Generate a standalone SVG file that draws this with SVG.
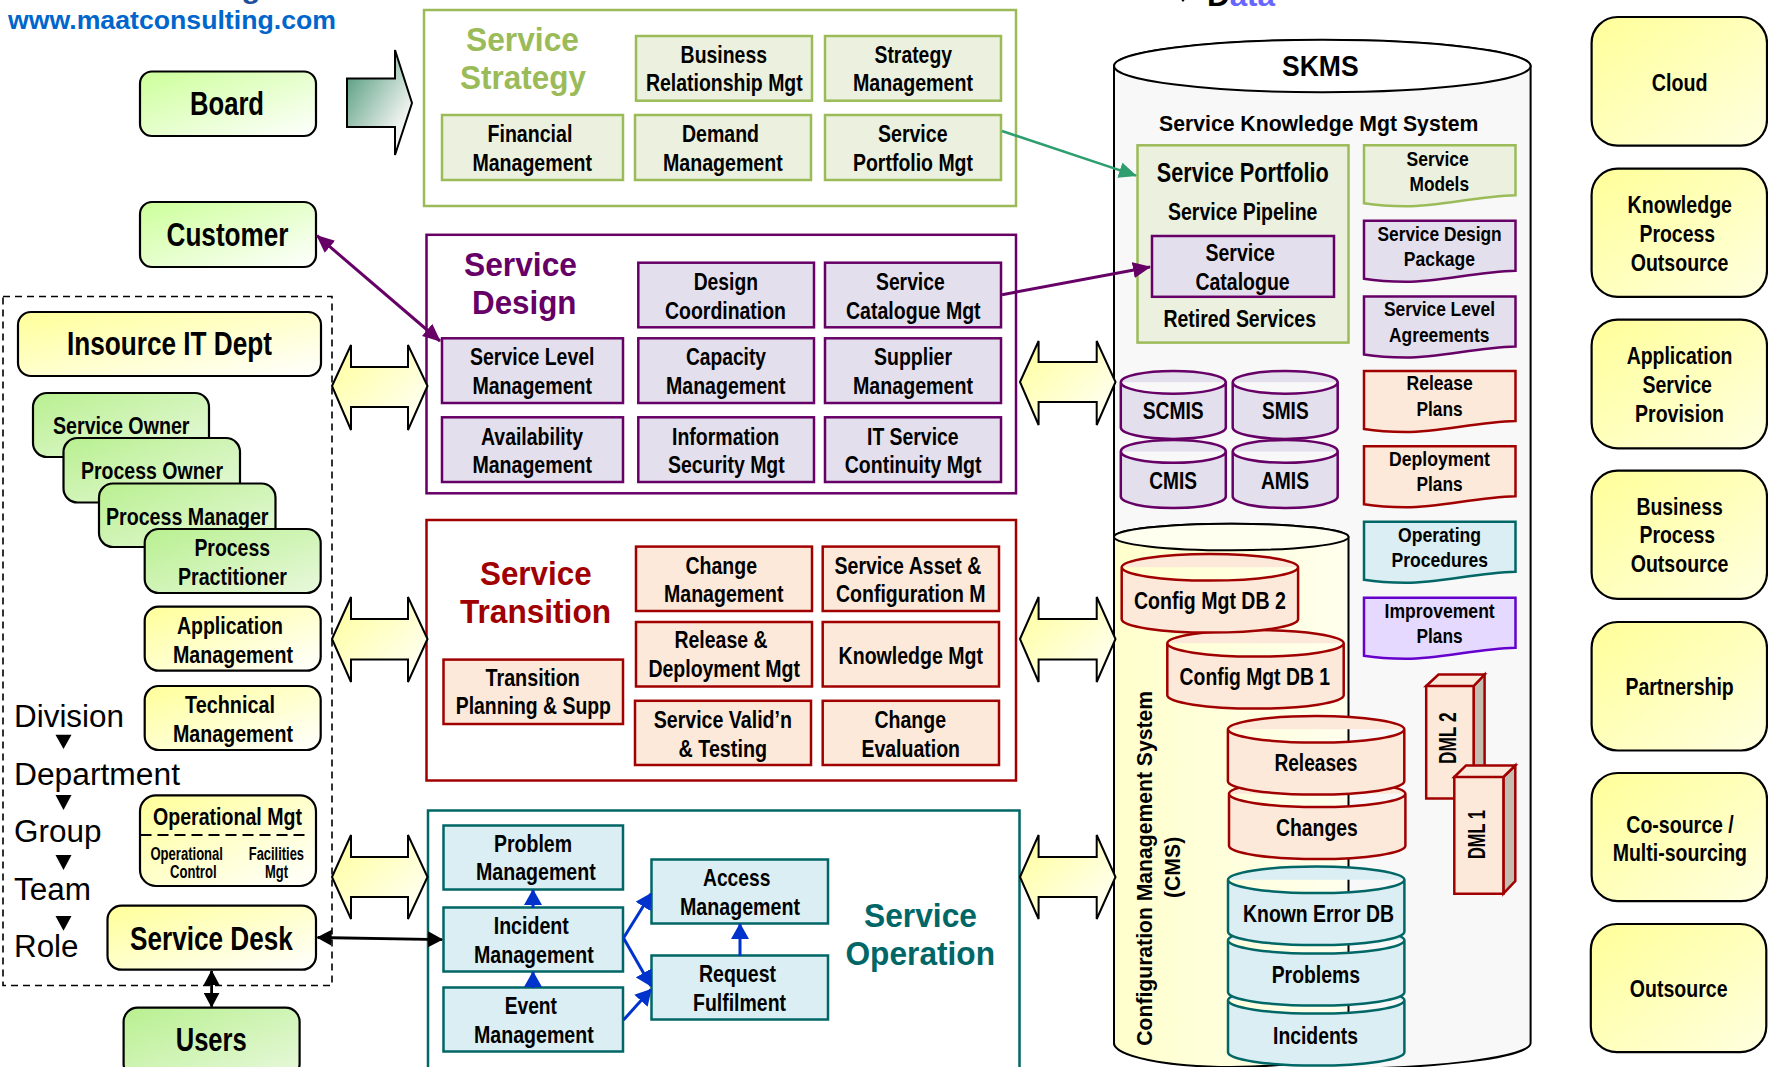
<svg xmlns="http://www.w3.org/2000/svg" width="1768" height="1067" viewBox="0 0 1768 1067">
<style>
text{font-family:"Liberation Sans",Arial,sans-serif;font-weight:700;fill:#000;font-size:24px}
.xl{font-size:33px}.lg{font-size:33px}.doc{font-size:21px}.sm{font-size:18px}.reg{font-weight:400;font-size:31px}
.rr{stroke:#000;stroke-width:2.2}
.ss{fill:#ebf1de;stroke:#9bbb59;stroke-width:2.5}
.sd{fill:#e4dfec;stroke:#660066;stroke-width:2.5}
.st{fill:#fde9d9;stroke:#a00000;stroke-width:2.5}
.so{fill:#daeef3;stroke:#006666;stroke-width:2.5}
.si{fill:#e6d9ff;stroke:#6600cc;stroke-width:2.5}
.frame{fill:#fff;stroke-width:2.5}
.blk{stroke:#000;stroke-width:2;stroke-linejoin:miter}
.wy{fill:url(#gy)}.wg{fill:url(#gg)}.wb{fill:url(#gb)}.wr{fill:url(#gr)}
.tri{fill:#000}
.side{fill:#c4bdb0;stroke:#a00000;stroke-width:2.5}
</style>
<defs>
<linearGradient id="gy" x1="0" y1="0" x2="1" y2="1"><stop offset="0" stop-color="#ffff99"/><stop offset="1" stop-color="#fff"/></linearGradient>
<linearGradient id="gr" x1="0" y1="0" x2="1" y2="1"><stop offset="0" stop-color="#ffff99"/><stop offset="1" stop-color="#ffffe0"/></linearGradient>
<linearGradient id="gb" x1="0" y1="0" x2="1" y2="1"><stop offset="0" stop-color="#ccff99"/><stop offset="1" stop-color="#fff"/></linearGradient>
<linearGradient id="gg" x1="0" y1="0" x2="1" y2="1"><stop offset="0" stop-color="#b8f090"/><stop offset="1" stop-color="#e8f8dc"/></linearGradient>
<linearGradient id="ga" x1="0" y1="0" x2="1" y2="1"><stop offset="0" stop-color="#3f9070"/><stop offset=".75" stop-color="#eef2ee"/><stop offset="1" stop-color="#fff"/></linearGradient>
<linearGradient id="gc" x1="0" y1="0" x2="1" y2="0"><stop offset="0" stop-color="#ffffcc"/><stop offset="1" stop-color="#ffffee"/></linearGradient>
<path id="doc" d="M0,0H151.500V50C112,51 77,61 42,61 27,61 12,60 0,58Z"/>
<path id="cylS" d="M0,11.400A52.500,11.400 0 0 1 105,11.400V56.600A52.500,11.400 0 0 1 0,56.600ZM0,11.400A52.500,11.400 0 0 0 105,11.400"/>
<path id="cylB" d="M0,13.300A88.200,13.300 0 0 1 176.400,13.300V65.300A88.200,13.300 0 0 1 0,65.300ZM0,13.300A88.200,13.300 0 0 0 176.400,13.300"/>
<marker id="mP" markerUnits="userSpaceOnUse" viewBox="0 0 18 16" markerWidth="18" markerHeight="16" refX="17" refY="8" orient="auto-start-reverse"><path d="M0,0L18,8L0,16Z" fill="#660066"/></marker>
<marker id="mG" markerUnits="userSpaceOnUse" viewBox="0 0 18 16" markerWidth="18" markerHeight="16" refX="17" refY="8" orient="auto"><path d="M0,0L18,8L0,16Z" fill="#2e9e6e"/></marker>
<marker id="mB" markerUnits="userSpaceOnUse" viewBox="0 0 16 18" markerWidth="16" markerHeight="18" refX="15" refY="9" orient="auto"><path d="M0,0L16,9L0,18Z" fill="#0033cc"/></marker>
<marker id="mK" markerUnits="userSpaceOnUse" viewBox="0 0 15 16" markerWidth="15" markerHeight="16" refX="14" refY="8" orient="auto-start-reverse"><path d="M0,0L15,8L0,16Z" fill="#000"/></marker>
</defs>

<g id="header">
<text x="20" y="-2" style="font-size:28px;fill:#1f4e9c" textLength="297" lengthAdjust="spacingAndGlyphs">Maat Consulting Ltd</text>
<text x="8" y="29" style="font-size:26px;fill:#0066cc" textLength="328" lengthAdjust="spacingAndGlyphs">www.maatconsulting.com</text>
<polygon class="tri" points="1179,-3 1187,-3 1183,2"/>
<text x="1207" y="6" style="font-size:30px" textLength="68" lengthAdjust="spacingAndGlyphs">D<tspan style="fill:#6666ff">ata</tspan></text>
</g>

<g id="board"><rect class="rr wb" x="140" y="71.500" width="176" height="64.500" rx="12"/><text class="lg" x="190" y="115" textLength="74" lengthAdjust="spacingAndGlyphs">Board</text></g>
<g id="customer"><rect class="rr wb" x="140" y="202" width="176" height="65" rx="12"/><text class="lg" x="166.500" y="246" textLength="122" lengthAdjust="spacingAndGlyphs">Customer</text></g>

<g id="it-dept-frame"><rect x="3" y="296.500" width="329" height="689" fill="none" stroke="#000" stroke-width="1.600" stroke-dasharray="7 5"/></g>
<g id="insource"><rect class="rr wy" x="18" y="312" width="303" height="64" rx="13"/><text class="lg" x="67" y="355" textLength="205" lengthAdjust="spacingAndGlyphs">Insource IT Dept</text></g>
<g id="service-owner"><rect class="rr wg" x="33" y="393" width="176" height="64" rx="14"/><text x="53" y="433.500" textLength="136.500" lengthAdjust="spacingAndGlyphs">Service Owner</text></g>
<g id="process-owner"><rect class="rr wg" x="63.500" y="438" width="176.500" height="64.500" rx="14"/><text x="81" y="478.500" textLength="142" lengthAdjust="spacingAndGlyphs">Process Owner</text></g>
<g id="process-manager"><rect class="rr wg" x="99" y="483.500" width="176.500" height="63.500" rx="14"/><text x="106" y="525" textLength="162.500" lengthAdjust="spacingAndGlyphs">Process Manager</text></g>
<g id="process-practitioner"><rect class="rr wg" x="144.700" y="529" width="176" height="64" rx="14"/><text x="194.400" y="555.700" textLength="75.600" lengthAdjust="spacingAndGlyphs">Process</text><text x="178" y="585" textLength="109" lengthAdjust="spacingAndGlyphs">Practitioner</text></g>
<g id="application-mgmt"><rect class="rr wy" x="144.700" y="606.700" width="176" height="64" rx="14"/><text x="177" y="633.800" textLength="106" lengthAdjust="spacingAndGlyphs">Application</text><text x="173" y="663" textLength="120" lengthAdjust="spacingAndGlyphs">Management</text></g>
<g id="technical-mgmt"><rect class="rr wy" x="144.700" y="686" width="176" height="64" rx="14"/><text x="185" y="713" textLength="90" lengthAdjust="spacingAndGlyphs">Technical</text><text x="173" y="742.300" textLength="120" lengthAdjust="spacingAndGlyphs">Management</text></g>
<g id="operational-mgt"><rect class="rr wy" x="140" y="795.400" width="176" height="90.600" rx="16"/><path d="M140.500,835H306" stroke="#000" stroke-width="1.800" stroke-dasharray="11 6" fill="none"/><text x="153" y="825" textLength="149" lengthAdjust="spacingAndGlyphs">Operational Mgt</text><text class="sm" x="150.400" y="859.500" textLength="72.600" lengthAdjust="spacingAndGlyphs">Operational</text><text class="sm" x="170" y="878" textLength="46.600" lengthAdjust="spacingAndGlyphs">Control</text><text class="sm" x="248.800" y="859.500" textLength="55.200" lengthAdjust="spacingAndGlyphs">Facilities</text><text class="sm" x="265" y="878" textLength="23" lengthAdjust="spacingAndGlyphs">Mgt</text></g>
<g id="service-desk"><rect class="rr wy" x="107.500" y="905.700" width="208.500" height="64" rx="14"/><text class="xl" x="130" y="949.500" textLength="162.800" lengthAdjust="spacingAndGlyphs">Service Desk</text></g>
<g id="users"><rect class="rr wg" x="123.600" y="1007.700" width="176" height="70" rx="14"/><text class="lg" x="175.700" y="1050.500" textLength="71" lengthAdjust="spacingAndGlyphs">Users</text></g>

<g id="hierarchy">
<text class="reg" x="14" y="727" textLength="110" lengthAdjust="spacingAndGlyphs">Division</text>
<polygon class="tri" points="55.500,734.800 71.500,734.800 63.500,749"/>
<text class="reg" x="14" y="785" textLength="166" lengthAdjust="spacingAndGlyphs">Department</text>
<polygon class="tri" points="55.500,795 71.500,795 63.500,810"/>
<text class="reg" x="14" y="841.600" textLength="87.400" lengthAdjust="spacingAndGlyphs">Group</text>
<polygon class="tri" points="55.500,855 71.500,855 63.500,870"/>
<text class="reg" x="14" y="900" textLength="77" lengthAdjust="spacingAndGlyphs">Team</text>
<polygon class="tri" points="55.500,916 71.500,916 63.500,930.700"/>
<text class="reg" x="14" y="957" textLength="64.500" lengthAdjust="spacingAndGlyphs">Role</text>
</g>

<g id="service-strategy">
<rect class="frame" stroke="#9bbb59" x="424" y="10" width="592" height="196"/>
<text class="xl" style="fill:#9bbb59" x="466" y="51" textLength="113" lengthAdjust="spacingAndGlyphs">Service</text>
<text class="xl" style="fill:#9bbb59" x="460" y="89" textLength="126" lengthAdjust="spacingAndGlyphs">Strategy</text>
<g id="business-relationship"><rect class="ss" x="636" y="36" width="176" height="64.700"/><text x="680.600" y="63" textLength="86.400" lengthAdjust="spacingAndGlyphs">Business</text><text x="646" y="91.300" textLength="156.700" lengthAdjust="spacingAndGlyphs">Relationship Mgt</text></g>
<g id="strategy-mgmt"><rect class="ss" x="825" y="36" width="176" height="64.700"/><text x="874.500" y="63" textLength="77.500" lengthAdjust="spacingAndGlyphs">Strategy</text><text x="853" y="91.300" textLength="120" lengthAdjust="spacingAndGlyphs">Management</text></g>
<g id="financial-mgmt"><rect class="ss" x="442" y="115" width="181" height="65"/><text x="487.500" y="142" textLength="84.900" lengthAdjust="spacingAndGlyphs">Financial</text><text x="472.400" y="171" textLength="119.600" lengthAdjust="spacingAndGlyphs">Management</text></g>
<g id="demand-mgmt"><rect class="ss" x="635" y="115" width="176" height="65"/><text x="682" y="142" textLength="77" lengthAdjust="spacingAndGlyphs">Demand</text><text x="663" y="171" textLength="119.700" lengthAdjust="spacingAndGlyphs">Management</text></g>
<g id="service-portfolio-mgt"><rect class="ss" x="825" y="115" width="176" height="65"/><text x="878" y="142" textLength="69.500" lengthAdjust="spacingAndGlyphs">Service</text><text x="853" y="171" textLength="120" lengthAdjust="spacingAndGlyphs">Portfolio Mgt</text></g>
</g>

<g id="service-design">
<rect class="frame" stroke="#660066" x="426.500" y="234.800" width="589.500" height="258.500"/>
<text class="xl" style="fill:#660066" x="464" y="276" textLength="113" lengthAdjust="spacingAndGlyphs">Service</text>
<text class="xl" style="fill:#660066" x="472" y="314" textLength="104.500" lengthAdjust="spacingAndGlyphs">Design</text>
<g id="design-coordination"><rect class="sd" x="638.300" y="262.700" width="175.700" height="64.600"/><text x="693.700" y="290" textLength="64.300" lengthAdjust="spacingAndGlyphs">Design</text><text x="665" y="319" textLength="121" lengthAdjust="spacingAndGlyphs">Coordination</text></g>
<g id="service-catalogue-mgt"><rect class="sd" x="825" y="262.700" width="176" height="64.600"/><text x="876" y="290" textLength="68.700" lengthAdjust="spacingAndGlyphs">Service</text><text x="846" y="319" textLength="134.600" lengthAdjust="spacingAndGlyphs">Catalogue Mgt</text></g>
<g id="service-level-mgmt"><rect class="sd" x="442" y="338.300" width="181" height="64.700"/><text x="470" y="365.300" textLength="124.500" lengthAdjust="spacingAndGlyphs">Service Level</text><text x="472.400" y="394" textLength="119.600" lengthAdjust="spacingAndGlyphs">Management</text></g>
<g id="capacity-mgmt"><rect class="sd" x="638.300" y="338.300" width="175.700" height="64.700"/><text x="686" y="365.300" textLength="80" lengthAdjust="spacingAndGlyphs">Capacity</text><text x="666" y="394" textLength="119.500" lengthAdjust="spacingAndGlyphs">Management</text></g>
<g id="supplier-mgmt"><rect class="sd" x="825" y="338.300" width="176" height="64.700"/><text x="874" y="365.300" textLength="78" lengthAdjust="spacingAndGlyphs">Supplier</text><text x="853" y="394" textLength="120" lengthAdjust="spacingAndGlyphs">Management</text></g>
<g id="availability-mgmt"><rect class="sd" x="442" y="417.300" width="181" height="64.700"/><text x="481" y="445" textLength="102" lengthAdjust="spacingAndGlyphs">Availability</text><text x="472.400" y="473.300" textLength="119.600" lengthAdjust="spacingAndGlyphs">Management</text></g>
<g id="info-security"><rect class="sd" x="638.300" y="417.300" width="175.700" height="64.700"/><text x="672" y="445" textLength="107.300" lengthAdjust="spacingAndGlyphs">Information</text><text x="668" y="473.300" textLength="116.700" lengthAdjust="spacingAndGlyphs">Security Mgt</text></g>
<g id="it-continuity"><rect class="sd" x="825" y="417.300" width="176" height="64.700"/><text x="867" y="445" textLength="91.600" lengthAdjust="spacingAndGlyphs">IT Service</text><text x="844.700" y="473.300" textLength="136.700" lengthAdjust="spacingAndGlyphs">Continuity Mgt</text></g>
</g>

<g id="service-transition">
<rect class="frame" stroke="#a00000" x="426.500" y="520" width="589.500" height="260.500"/>
<text class="xl" style="fill:#a00000" x="480" y="584.600" textLength="111.600" lengthAdjust="spacingAndGlyphs">Service</text>
<text class="xl" style="fill:#a00000" x="460" y="623" textLength="151" lengthAdjust="spacingAndGlyphs">Transition</text>
<g id="change-mgmt"><rect class="st" x="636" y="546.600" width="176" height="64.400"/><text x="685.500" y="574" textLength="71.500" lengthAdjust="spacingAndGlyphs">Change</text><text x="664" y="602" textLength="119.500" lengthAdjust="spacingAndGlyphs">Management</text></g>
<g id="asset-config"><rect class="st" x="822.700" y="546.600" width="176.300" height="64.400"/><text x="834.500" y="574" textLength="146.900" lengthAdjust="spacingAndGlyphs">Service Asset &amp;</text><text x="836" y="602" textLength="149.500" lengthAdjust="spacingAndGlyphs">Configuration M</text></g>
<g id="release-deploy"><rect class="st" x="636" y="622" width="176" height="64.500"/><text x="674.500" y="648" textLength="93" lengthAdjust="spacingAndGlyphs">Release &amp;</text><text x="648.400" y="677" textLength="151.600" lengthAdjust="spacingAndGlyphs">Deployment Mgt</text></g>
<g id="knowledge-mgt"><rect class="st" x="822.700" y="622" width="176.300" height="64.500"/><text x="838.600" y="664" textLength="144.400" lengthAdjust="spacingAndGlyphs">Knowledge Mgt</text></g>
<g id="validation"><rect class="st" x="635" y="700.800" width="176" height="64.200"/><text x="653.700" y="728" textLength="138.300" lengthAdjust="spacingAndGlyphs">Service Valid’n</text><text x="678.600" y="757" textLength="88.400" lengthAdjust="spacingAndGlyphs">&amp; Testing</text></g>
<g id="change-eval"><rect class="st" x="822.700" y="700.800" width="176.300" height="64.200"/><text x="874.500" y="728" textLength="71.500" lengthAdjust="spacingAndGlyphs">Change</text><text x="861.400" y="757" textLength="98.600" lengthAdjust="spacingAndGlyphs">Evaluation</text></g>
<g id="transition-planning"><rect class="st" x="443.500" y="659.600" width="179.500" height="64.400"/><text x="485.500" y="686" textLength="94.300" lengthAdjust="spacingAndGlyphs">Transition</text><text x="455.700" y="714" textLength="155.300" lengthAdjust="spacingAndGlyphs">Planning &amp; Supp</text></g>
</g>

<g id="service-operation">
<rect class="frame" stroke="#006666" x="428" y="810.500" width="591.500" height="270"/>
<text class="xl" style="fill:#006666" x="864" y="927.400" textLength="113" lengthAdjust="spacingAndGlyphs">Service</text>
<text class="xl" style="fill:#006666" x="845.500" y="965.400" textLength="149.500" lengthAdjust="spacingAndGlyphs">Operation</text>
<g id="problem-mgmt"><rect class="so" x="443.500" y="825.500" width="179.500" height="64"/><text x="494" y="852" textLength="78" lengthAdjust="spacingAndGlyphs">Problem</text><text x="476" y="880" textLength="119.700" lengthAdjust="spacingAndGlyphs">Management</text></g>
<g id="incident-mgmt"><rect class="so" x="443.500" y="907.500" width="179.500" height="64"/><text x="493.700" y="934" textLength="75.100" lengthAdjust="spacingAndGlyphs">Incident</text><text x="474" y="963" textLength="119.700" lengthAdjust="spacingAndGlyphs">Management</text></g>
<g id="event-mgmt"><rect class="so" x="443.500" y="987.500" width="179.500" height="64"/><text x="504.700" y="1014" textLength="52.300" lengthAdjust="spacingAndGlyphs">Event</text><text x="474" y="1043" textLength="119.700" lengthAdjust="spacingAndGlyphs">Management</text></g>
<g id="access-mgmt"><rect class="so" x="651.500" y="859.500" width="176.500" height="64"/><text x="703" y="886" textLength="67.400" lengthAdjust="spacingAndGlyphs">Access</text><text x="680" y="915" textLength="120" lengthAdjust="spacingAndGlyphs">Management</text></g>
<g id="request-fulfilment"><rect class="so" x="651.500" y="955.500" width="176.500" height="64"/><text x="699" y="982" textLength="77" lengthAdjust="spacingAndGlyphs">Request</text><text x="693" y="1011" textLength="93" lengthAdjust="spacingAndGlyphs">Fulfilment</text></g>
</g>

<g id="skms">
<path d="M1114,66A208.300,26 0 0 1 1530.600,66V1043A208.300,26 0 0 1 1114,1043Z" fill="#f8f8f8" stroke="#000" stroke-width="2"/>
<ellipse cx="1322.300" cy="66" rx="208.300" ry="26.300" fill="#fff" stroke="#000" stroke-width="2"/>
<text x="1282" y="75.800" style="font-size:29px" textLength="76.600" lengthAdjust="spacingAndGlyphs">SKMS</text>
<text x="1159" y="130.900" style="font-size:22px" textLength="319.400" lengthAdjust="spacingAndGlyphs">Service Knowledge Mgt System</text>
</g>
<g id="service-portfolio">
<rect class="ss" x="1137.500" y="145.300" width="211" height="197.300"/>
<text x="1156.800" y="181.500" style="font-size:27px" textLength="172" lengthAdjust="spacingAndGlyphs">Service Portfolio</text>
<text x="1168" y="220.400" textLength="149.400" lengthAdjust="spacingAndGlyphs">Service Pipeline</text>
<rect class="sd" x="1152" y="236" width="182" height="60.800"/>
<text x="1205.500" y="261" textLength="69.300" lengthAdjust="spacingAndGlyphs">Service</text>
<text x="1195.400" y="290.300" textLength="94.300" lengthAdjust="spacingAndGlyphs">Catalogue</text>
<text x="1163.400" y="327" textLength="152.600" lengthAdjust="spacingAndGlyphs">Retired Services</text>
</g>
<g id="doc-service-models"><use href="#doc" class="ss" x="1364" y="145.300"/><text class="doc" x="1406.500" y="165.500" textLength="62.300" lengthAdjust="spacingAndGlyphs">Service</text><text class="doc" x="1409.500" y="190.500" textLength="59.500" lengthAdjust="spacingAndGlyphs">Models</text></g>
<g id="doc-design-package"><use href="#doc" class="sd" x="1364" y="220.700"/><text class="doc" x="1377.500" y="241" textLength="124.200" lengthAdjust="spacingAndGlyphs">Service Design</text><text class="doc" x="1403.800" y="266" textLength="71.200" lengthAdjust="spacingAndGlyphs">Package</text></g>
<g id="doc-sla"><use href="#doc" class="sd" x="1364" y="296.500"/><text class="doc" x="1384" y="316" textLength="111" lengthAdjust="spacingAndGlyphs">Service Level</text><text class="doc" x="1389" y="341.500" textLength="100.400" lengthAdjust="spacingAndGlyphs">Agreements</text></g>
<g id="doc-release-plans"><use href="#doc" class="st" x="1364" y="371"/><text class="doc" x="1406.500" y="390" textLength="66.200" lengthAdjust="spacingAndGlyphs">Release</text><text class="doc" x="1416.500" y="416" textLength="46.100" lengthAdjust="spacingAndGlyphs">Plans</text></g>
<g id="doc-deployment-plans"><use href="#doc" class="st" x="1364" y="446.300"/><text class="doc" x="1389" y="466" textLength="100.800" lengthAdjust="spacingAndGlyphs">Deployment</text><text class="doc" x="1416.500" y="491" textLength="46.100" lengthAdjust="spacingAndGlyphs">Plans</text></g>
<g id="doc-operating"><use href="#doc" class="so" x="1364" y="521.700"/><text class="doc" x="1398" y="541.500" textLength="83" lengthAdjust="spacingAndGlyphs">Operating</text><text class="doc" x="1391.500" y="567" textLength="96.500" lengthAdjust="spacingAndGlyphs">Procedures</text></g>
<g id="doc-improvement"><use href="#doc" class="si" x="1364" y="597.700"/><text class="doc" x="1384.500" y="617.500" textLength="110.200" lengthAdjust="spacingAndGlyphs">Improvement</text><text class="doc" x="1416.500" y="643" textLength="46.100" lengthAdjust="spacingAndGlyphs">Plans</text></g>

<g id="scmis"><use href="#cylS" class="sd" x="1120.800" y="370.900"/><text x="1142.700" y="419.400" textLength="61" lengthAdjust="spacingAndGlyphs">SCMIS</text></g>
<g id="smis"><use href="#cylS" class="sd" x="1232.700" y="370.900"/><text x="1262" y="419.400" textLength="46.600" lengthAdjust="spacingAndGlyphs">SMIS</text></g>
<g id="cmis"><use href="#cylS" class="sd" x="1120.800" y="440"/><text x="1149.300" y="489" textLength="47.700" lengthAdjust="spacingAndGlyphs">CMIS</text></g>
<g id="amis"><use href="#cylS" class="sd" x="1232.700" y="440"/><text x="1261" y="489" textLength="48" lengthAdjust="spacingAndGlyphs">AMIS</text></g>

<g id="cms">
<path d="M1114,537A117.250,13.300 0 0 1 1348.500,537V1043A117.250,24 0 0 1 1114,1043Z" fill="url(#gc)" stroke="#000" stroke-width="2"/>
<ellipse cx="1231.250" cy="537" rx="117.250" ry="13.300" fill="#fffff0" stroke="#000" stroke-width="2"/>
<text transform="translate(1152.400,1045.700) rotate(-90)" style="font-size:22px" textLength="354.700" lengthAdjust="spacingAndGlyphs">Configuration Management System</text>
<text transform="translate(1180,898) rotate(-90)" style="font-size:22px" textLength="61.200" lengthAdjust="spacingAndGlyphs">(CMS)</text>
</g>
<g id="config-db-1"><use href="#cylB" class="st" x="1167.300" y="630"/><text x="1179.600" y="684.500" textLength="150.400" lengthAdjust="spacingAndGlyphs">Config Mgt DB 1</text></g>
<g id="config-db-2"><use href="#cylB" class="st" x="1121.700" y="554"/><text x="1134" y="609" textLength="151.800" lengthAdjust="spacingAndGlyphs">Config Mgt DB 2</text></g>
<g id="changes"><use href="#cylB" class="st" x="1229" y="780.500"/><text x="1276" y="836" textLength="81.800" lengthAdjust="spacingAndGlyphs">Changes</text></g>
<g id="releases"><use href="#cylB" class="st" x="1227.900" y="716"/><text x="1274.400" y="771" textLength="82.900" lengthAdjust="spacingAndGlyphs">Releases</text></g>
<g id="incidents"><use href="#cylB" class="so" x="1228" y="987"/><text x="1273" y="1044" textLength="85" lengthAdjust="spacingAndGlyphs">Incidents</text></g>
<g id="problems"><use href="#cylB" class="so" x="1228" y="927"/><text x="1271.700" y="983" textLength="88.300" lengthAdjust="spacingAndGlyphs">Problems</text></g>
<g id="known-error-db"><use href="#cylB" class="so" x="1228" y="866.500"/><text x="1243" y="922" textLength="151" lengthAdjust="spacingAndGlyphs">Known Error DB</text></g>

<g id="dml-2"><path class="side" d="M1473.600,686L1484.600,674.500V787L1473.600,798.500Z"/><path class="st" d="M1426.200,686L1438.500,674.500H1484.600L1473.600,686ZM1426.200,686H1473.600V798.500H1426.200Z"/><text transform="translate(1456,764) rotate(-90)" style="font-size:23px" textLength="51.500" lengthAdjust="spacingAndGlyphs">DML 2</text></g>
<g id="dml-1"><path class="side" d="M1503.400,777L1515.300,765.400V881L1503.400,893.700Z"/><path class="st" d="M1454.300,777L1466,765.400H1515.300L1503.400,777ZM1454.300,777H1503.400V893.700H1454.300Z"/><text transform="translate(1485,859) rotate(-90)" style="font-size:23px" textLength="49" lengthAdjust="spacingAndGlyphs">DML 1</text></g>

<g id="cloud"><rect class="rr wr" x="1591.600" y="17" width="175.400" height="128.700" rx="26"/><text x="1651.700" y="91" textLength="55.800" lengthAdjust="spacingAndGlyphs">Cloud</text></g>
<g id="knowledge-outsource"><rect class="rr wr" x="1591.600" y="168.700" width="175.400" height="128.100" rx="26"/><text x="1627.600" y="212.800" textLength="104.400" lengthAdjust="spacingAndGlyphs">Knowledge</text><text x="1639.500" y="242" textLength="75.500" lengthAdjust="spacingAndGlyphs">Process</text><text x="1630.700" y="271" textLength="97.800" lengthAdjust="spacingAndGlyphs">Outsource</text></g>
<g id="application-provision"><rect class="rr wr" x="1591.600" y="319.600" width="175.400" height="128.700" rx="26"/><text x="1626.700" y="364" textLength="105.800" lengthAdjust="spacingAndGlyphs">Application</text><text x="1642.500" y="392.600" textLength="69.400" lengthAdjust="spacingAndGlyphs">Service</text><text x="1635" y="421.800" textLength="89" lengthAdjust="spacingAndGlyphs">Provision</text></g>
<g id="business-outsource"><rect class="rr wr" x="1591.600" y="470.700" width="175.400" height="128.100" rx="26"/><text x="1636.400" y="515" textLength="86.400" lengthAdjust="spacingAndGlyphs">Business</text><text x="1639.500" y="543" textLength="75.500" lengthAdjust="spacingAndGlyphs">Process</text><text x="1630.700" y="572.400" textLength="97.800" lengthAdjust="spacingAndGlyphs">Outsource</text></g>
<g id="partnership"><rect class="rr wr" x="1591.600" y="622" width="175.400" height="128.500" rx="26"/><text x="1625.400" y="695" textLength="108.400" lengthAdjust="spacingAndGlyphs">Partnership</text></g>
<g id="co-source"><rect class="rr wr" x="1591.600" y="773" width="175.400" height="128.200" rx="26"/><text x="1626.300" y="833" textLength="107.500" lengthAdjust="spacingAndGlyphs">Co-source /</text><text x="1612.700" y="861" textLength="134.300" lengthAdjust="spacingAndGlyphs">Multi-sourcing</text></g>
<g id="outsource"><rect class="rr wr" x="1590.800" y="924" width="175.500" height="128.200" rx="26"/><text x="1629.800" y="997" textLength="97.800" lengthAdjust="spacingAndGlyphs">Outsource</text></g>

<g id="connectors" fill="none">
<polygon class="blk" fill="url(#ga)" points="347,78.600 395,78.600 395,50 412,103 395,155 395,127 347,127"/>
<polygon class="blk wy" points="332,386 351,345 351,367 408,367 408,345 427.500,386 408,430 408,407 351,407 351,430"/>
<polygon class="blk wy" points="332,639 351,597 351,619 408,619 408,597 427.500,639 408,682 408,659.500 351,659.500 351,682"/>
<polygon class="blk wy" points="332,877 351,835 351,857 408,857 408,835 427.500,877 408,919 408,897 351,897 351,919"/>
<polygon class="blk wy" points="1020,382 1038.600,341 1038.600,362 1096.700,362 1096.700,341 1115.500,382 1096.700,425 1096.700,402 1038.600,402 1038.600,425"/>
<polygon class="blk wy" points="1020,639 1038.600,597 1038.600,619 1096.700,619 1096.700,597 1115.500,639 1096.700,682 1096.700,659.500 1038.600,659.500 1038.600,682"/>
<polygon class="blk wy" points="1020,877 1038.600,835 1038.600,857 1096.700,857 1096.700,835 1115.500,877 1096.700,919 1096.700,897 1038.600,897 1038.600,919"/>
<path d="M317,235.700L440,341" stroke="#660066" stroke-width="3" marker-start="url(#mP)" marker-end="url(#mP)"/>
<path d="M1002,294.700L1150,267" stroke="#660066" stroke-width="3" marker-end="url(#mP)"/>
<path d="M1002,131L1136,175.600" stroke="#2e9e6e" stroke-width="2.500" marker-end="url(#mG)"/>
<path d="M317.600,937.500L442,939.600" stroke="#000" stroke-width="2.800" marker-start="url(#mK)" marker-end="url(#mK)"/>
<path d="M211.600,971V1006.700" stroke="#000" stroke-width="2.800" marker-start="url(#mK)" marker-end="url(#mK)"/>
<path d="M533,908V890" stroke="#0033cc" stroke-width="3" marker-end="url(#mB)"/>
<path d="M533,988V972" stroke="#0033cc" stroke-width="3" marker-end="url(#mB)"/>
<path d="M623.500,938L651,893.700" stroke="#0033cc" stroke-width="3" marker-end="url(#mB)"/>
<path d="M623.500,938L651,986" stroke="#0033cc" stroke-width="3" marker-end="url(#mB)"/>
<path d="M623.500,1020L651,989.600" stroke="#0033cc" stroke-width="3" marker-end="url(#mB)"/>
<path d="M740,956V924" stroke="#0033cc" stroke-width="3" marker-end="url(#mB)"/>
</g>
</svg>
